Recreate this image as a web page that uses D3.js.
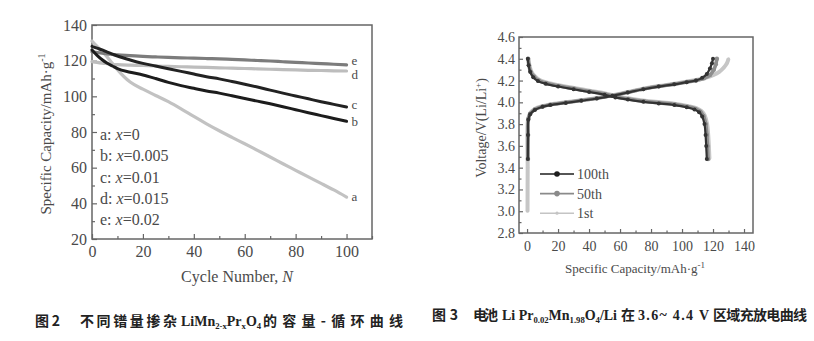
<!DOCTYPE html>
<html>
<head>
<meta charset="utf-8">
<script src="https://cdn.jsdelivr.net/npm/d3@7"></script>
<style>
  html, body { margin: 0; padding: 0; background: #fff; }
  svg { display: block; }
</style>
</head>
<body>
<svg id="fig" width="814" height="341"></svg>
<script>
// ---------- Figure 2: capacity vs. cycle number ----------
const cycles = [0, 2, 4, 6, 8, 10, 15, 20, 25, 30, 35, 40, 45, 50, 55, 60, 65, 70, 75, 80, 85, 90, 95, 100];
const capA = [131, 128, 125, 122, 118.5, 115, 108, 104, 100.5, 97, 93, 88.7, 84.6, 80.7, 77, 73.4, 69.7, 66, 62.2, 58.5, 54.8, 51.2, 47.5, 43.5];
const capB = [126, 123, 120.5, 118.5, 117, 115.5, 113.5, 112, 110, 107.8, 106, 104.5, 103, 101.8, 100.3, 98.8, 97.3, 95.8, 94.2, 92.5, 90.8, 89.2, 87.6, 86];
const capC = [128, 127, 126, 124.8, 123.7, 122.6, 120.4, 118.5, 117, 115.5, 114, 112.5, 111, 109.8, 108.3, 106.8, 105.2, 103.5, 101.8, 100.2, 98.6, 97, 95.5, 94];
const capD = [119.5, 119, 118.6, 118.3, 118, 117.8, 117.5, 117.3, 117, 116.8, 116.6, 116.4, 116.2, 116, 115.8, 115.6, 115.4, 115.2, 115, 114.8, 114.6, 114.5, 114.3, 114.2];
const capE = [125, 124.6, 124.2, 123.8, 123.5, 123.2, 122.8, 122.4, 122.1, 121.8, 121.6, 121.4, 121.2, 121, 120.7, 120.4, 120.1, 119.8, 119.4, 119, 118.7, 118.3, 118, 117.6];
const seriesNames = ["a", "b", "c", "d", "e"];
const dopingX = ["0", "0.005", "0.01", "0.015", "0.02"];
const cycleTicks = [0, 20, 40, 60, 80, 100];
const capTicks = [20, 40, 60, 80, 100, 120, 140];

// ---------- Figure 3: charge / discharge curves ----------
const charge100 = [[0.5,3.48],[0.6,3.7],[0.8,3.84],[2,3.89],[5,3.93],[10,3.96],[15,3.975],[25,3.995],[35,4.015],[45,4.035],[55,4.06],[65,4.09],[75,4.12],[85,4.145],[95,4.165],[103,4.185],[109,4.2],[113,4.225],[116,4.26],[118,4.31],[119.3,4.36],[120,4.40]];
const discharge100 = [[0.5,4.40],[1,4.34],[2,4.28],[4,4.23],[7,4.195],[12,4.17],[20,4.145],[30,4.12],[40,4.095],[50,4.07],[57,4.045],[65,4.025],[75,4.005],[85,3.99],[95,3.975],[103,3.955],[108,3.935],[111,3.91],[113,3.87],[114.5,3.8],[115.2,3.7],[115.6,3.6],[116,3.48]];
const charge50 = [[0.6,3.48],[0.7,3.7],[0.9,3.85],[2,3.895],[5,3.935],[10,3.962],[15,3.978],[25,3.998],[35,4.018],[45,4.038],[55,4.062],[65,4.092],[75,4.122],[85,4.147],[95,4.167],[103,4.187],[109,4.2],[114,4.22],[118,4.25],[120.5,4.3],[121.8,4.35],[122.5,4.40]];
const discharge50 = [[0.7,4.40],[1.2,4.34],[2.3,4.28],[4.5,4.235],[7.5,4.2],[12.5,4.175],[20.5,4.15],[30.5,4.125],[40.5,4.1],[50.5,4.075],[57.5,4.05],[65.5,4.03],[75.5,4.01],[85.5,3.995],[95.5,3.98],[103.5,3.96],[108.7,3.94],[111.8,3.915],[113.8,3.875],[115.3,3.8],[116,3.7],[116.4,3.6],[116.8,3.48]];
const charge1 = [[0.3,3.0],[0.4,3.4],[0.6,3.84],[2,3.9],[5,3.94],[10,3.965],[15,3.98],[25,4.0],[35,4.02],[45,4.04],[55,4.065],[65,4.095],[75,4.125],[85,4.15],[95,4.17],[103,4.19],[109,4.205],[115,4.225],[120,4.25],[124,4.28],[127,4.32],[129,4.36],[130,4.40]];
const discharge1 = [[0.9,4.40],[1.5,4.34],[2.7,4.285],[5,4.24],[8,4.205],[13,4.18],[21,4.155],[31,4.13],[41,4.105],[51,4.08],[58,4.055],[66,4.035],[76,4.015],[86,4.0],[96,3.985],[104,3.965],[109.5,3.945],[112.5,3.92],[114.6,3.88],[116.2,3.8],[116.9,3.7],[117.3,3.6],[117.7,3.48]];
const cycleLabels = ["100th", "50th", "1st"];
const specTicks = [0, 20, 40, 60, 80, 100, 120, 140];
const voltTicks = [2.8, 3.0, 3.2, 3.4, 3.6, 3.8, 4.0, 4.2, 4.4, 4.6];

const SERIF = "'Liberation Serif', 'DejaVu Serif', 'Times New Roman', serif";
const CJK = "'Noto Sans CJK SC', sans-serif";

const svg = d3.select("#fig");
const axisColor = "#666";
const textColor = "#4a4a4a";

function styleAxis(g, fontSize) {
  g.attr("font-family", SERIF);
  g.select(".domain").remove();
  g.selectAll(".tick line").attr("stroke", axisColor).attr("stroke-width", 1.2);
  g.selectAll(".tick text")
    .style("font-family", SERIF)
    .attr("fill", textColor)
    .style("font-size", fontSize + "px");
}

function frame(x0, y0, x1, y1) {
  svg.append("rect")
    .attr("x", x0).attr("y", y0)
    .attr("width", x1 - x0).attr("height", y1 - y0)
    .attr("fill", "none").attr("stroke", axisColor).attr("stroke-width", 1.5);
}

function minorValues(lo, hi, step, majors) {
  const out = [];
  for (let v = lo; v <= hi + 1e-9; v += step) {
    const r = Math.round(v * 1000) / 1000;
    if (!majors.some(m => Math.abs(m - r) < 1e-6)) out.push(r);
  }
  return out;
}

function serifText(x, y, size) {
  return svg.append("text").attr("x", x).attr("y", y)
    .style("font-family", SERIF).style("font-size", size + "px")
    .attr("fill", textColor);
}

// ====== Left panel ======
const x2 = d3.scaleLinear().domain([0, 110]).range([92, 372]);
const y2 = d3.scaleLinear().domain([20, 140]).range([239, 25]);

svg.append("g").attr("transform", `translate(0,${y2(20)})`)
  .call(d3.axisBottom(x2).tickValues(cycleTicks).tickSize(-5).tickPadding(7))
  .call(g => styleAxis(g, 16));
svg.append("g").attr("transform", `translate(0,${y2(20)})`)
  .call(d3.axisBottom(x2).tickValues(minorValues(0, 110, 10, cycleTicks)).tickSize(-3).tickFormat(""))
  .call(g => styleAxis(g, 16));
svg.append("g").attr("transform", `translate(${x2(0)},0)`)
  .call(d3.axisLeft(y2).tickValues(capTicks).tickSize(-5).tickPadding(5))
  .call(g => styleAxis(g, 16));
svg.append("g").attr("transform", `translate(${x2(0)},0)`)
  .call(d3.axisLeft(y2).tickValues(minorValues(20, 140, 10, capTicks)).tickSize(-3).tickFormat(""))
  .call(g => styleAxis(g, 16));
frame(x2(0), y2(140), x2(110), y2(20));

const capSeries = [
  { name: "a", values: capA, color: "#c2c2c2", width: 3.2 },
  { name: "d", values: capD, color: "#bdbdbd", width: 3.2 },
  { name: "e", values: capE, color: "#7c7c7c", width: 3.2 },
  { name: "b", values: capB, color: "#1c1c1c", width: 3 },
  { name: "c", values: capC, color: "#222", width: 3 }
];
const capLine = d3.line().x((d, i) => x2(cycles[i])).y(d => y2(d)).curve(d3.curveMonotoneX);
svg.append("g").selectAll("path").data(capSeries).join("path")
  .attr("d", s => capLine(s.values))
  .attr("fill", "none")
  .attr("stroke", s => s.color)
  .attr("stroke-width", s => s.width)
  .attr("stroke-linecap", "round");

// end-of-curve letters
const labelShift = { a: 4, b: 5, c: 2, d: 8, e: 0 };
capSeries.forEach(s => {
  serifText(x2(cycles[cycles.length - 1]) + 5, y2(s.values[s.values.length - 1]) + labelShift[s.name], 13)
    .text(s.name);
});

// legend of doping levels
seriesNames.forEach((n, i) => {
  const t = serifText(100, 140 + i * 21.3, 16);
  t.append("tspan").text(n + ": ");
  t.append("tspan").attr("font-style", "italic").text("x");
  t.append("tspan").text("=" + dopingX[i]);
});

serifText(237, 282, 16).attr("text-anchor", "middle")
  .call(t => {
    t.append("tspan").text("Cycle Number, ");
    t.append("tspan").attr("font-style", "italic").text("N");
  });
serifText(0, 0, 15)
  .attr("transform", "translate(51,134) rotate(-90)")
  .attr("text-anchor", "middle")
  .call(t => {
    t.append("tspan").text("Specific Capacity/mAh·g");
    t.append("tspan").attr("dy", -6).style("font-size", "10px").text("-1");
  });

// ====== Right panel ======
const x3 = d3.scaleLinear().domain([-5.2, 145.8]).range([519, 753]);
const y3 = d3.scaleLinear().domain([2.8, 4.6]).range([233, 37]);

svg.append("g").attr("transform", `translate(0,${y3(2.8)})`)
  .call(d3.axisBottom(x3).tickValues(specTicks).tickSize(-4).tickPadding(8))
  .call(g => styleAxis(g, 14));
svg.append("g").attr("transform", `translate(0,${y3(2.8)})`)
  .call(d3.axisBottom(x3).tickValues(minorValues(10, 140, 20, [])).tickSize(-2.5).tickFormat(""))
  .call(g => styleAxis(g, 14));
svg.append("g").attr("transform", `translate(${x3(-5.2)},0)`)
  .call(d3.axisLeft(y3).tickValues(voltTicks).tickSize(-4).tickPadding(4).tickFormat(d3.format(".1f")))
  .call(g => styleAxis(g, 14));
svg.append("g").attr("transform", `translate(${x3(-5.2)},0)`)
  .call(d3.axisLeft(y3).tickValues(minorValues(2.9, 4.5, 0.2, [])).tickSize(-2.5).tickFormat(""))
  .call(g => styleAxis(g, 14));
frame(x3(-5.2), y3(4.6), x3(145.8), y3(2.8));

const vcLine = d3.line().x(d => x3(d[0])).y(d => y3(d[1])).curve(d3.curveCatmullRom.alpha(0.5));
const cycleSeries = [
  { label: "1st", curves: [charge1, discharge1], color: "#c6c6c6", width: 4, r: 1.6 },
  { label: "50th", curves: [charge50, discharge50], color: "#8e8e8e", width: 3.6, r: 2.2 },
  { label: "100th", curves: [charge100, discharge100], color: "#333", width: 2.2, r: 2 }
];
const curveG = svg.append("g");
cycleSeries.forEach(s => {
  s.curves.forEach(c => {
    curveG.append("path")
      .attr("d", vcLine(c))
      .attr("fill", "none")
      .attr("stroke", s.color)
      .attr("stroke-width", s.width);
    curveG.append("g").selectAll("circle").data(c).join("circle")
      .attr("cx", d => x3(d[0])).attr("cy", d => y3(d[1]))
      .attr("r", s.r).attr("fill", s.color);
  });
});

// cycle legend
const legendColors = { "100th": "#1e1e1e", "50th": "#8a8a8a", "1st": "#c4c4c4" };
const legendR = { "100th": 2.8, "50th": 2.8, "1st": 1.6 };
cycleLabels.forEach((lab, i) => {
  const yy = 174 + i * 19.6;
  svg.append("line").attr("x1", 540).attr("x2", 574).attr("y1", yy).attr("y2", yy)
    .attr("stroke", legendColors[lab]).attr("stroke-width", 1.6);
  svg.append("circle").attr("cx", 557).attr("cy", yy).attr("r", legendR[lab])
    .attr("fill", legendColors[lab]);
  serifText(577, yy + 5, 14).text(lab);
});

serifText(635, 273, 13).attr("text-anchor", "middle")
  .call(t => {
    t.append("tspan").text("Specific Capacity/mAh·g");
    t.append("tspan").attr("dy", -5).style("font-size", "9px").text("-1");
  });
serifText(0, 0, 14)
  .attr("transform", "translate(486,128) rotate(-90)")
  .attr("text-anchor", "middle")
  .call(t => {
    t.append("tspan").text("Voltage/V(Li/Li");
    t.append("tspan").attr("dy", -5).style("font-size", "9px").text("+");
    t.append("tspan").attr("dy", 5).text(")");
  });

// ====== Captions ======
function chunk(x, y, txt, size, len) {
  const t = svg.append("text")
    .attr("x", x).attr("y", y).attr("fill", "#222")
    .style("font-family", CJK).style("font-weight", 700)
    .style("font-size", size + "px").text(txt);
  if (len) t.attr("textLength", len).attr("lengthAdjust", "spacing");
  return t;
}
function formula(x, y, parts, size, len) {
  // parts: [text, isSub]
  const t = svg.append("text")
    .attr("x", x).attr("y", y).attr("fill", "#222")
    .style("font-family", SERIF).style("font-weight", 700)
    .style("font-size", size + "px");
  let sub = false;
  parts.forEach(([s, isSub]) => {
    const span = t.append("tspan").text(s);
    if (isSub) span.style("font-size", (size * 0.62) + "px");
    if (isSub && !sub) { span.attr("dy", 3); sub = true; }
    else if (!isSub && sub) { span.attr("dy", -3); sub = false; }
  });
  if (len) t.attr("textLength", len).attr("lengthAdjust", "spacing");
  return t;
}

const cap2y = 326;
chunk(35, cap2y, "图 2", 14, 25);
chunk(80, cap2y, "不同镨量掺杂", 14, 97);
formula(181, cap2y, [["LiMn", false], ["2-x", true], ["Pr", false], ["x", true], ["O", false], ["4", true]], 14);
chunk(263, cap2y, "的容量-循环曲线", 14, 140);

const cap3y = 320;
chunk(432, cap3y, "图 3", 14, 26);
chunk(473, cap3y, "电池", 14, 25);
formula(502, cap3y, [["Li Pr", false], ["0.02", true], ["Mn", false], ["1.98", true], ["O", false], ["4", true], ["/Li", false]], 14, 115);
chunk(621, cap3y, "在", 14, 13);
formula(638, cap3y, [["3.6~ 4.4 V", false]], 14, 71);
chunk(713, cap3y, "区域充放电曲线", 14, 94);
</script>
</body>
</html>
